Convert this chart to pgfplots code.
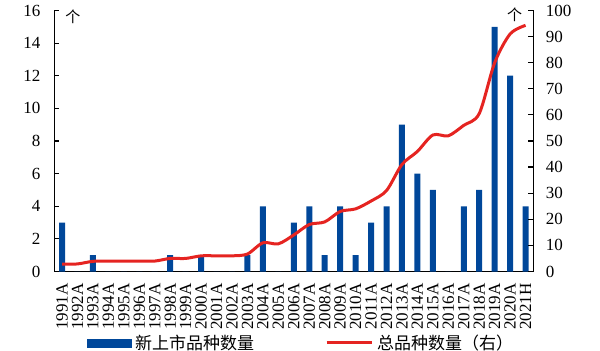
\documentclass[border=0pt]{standalone}
\usepackage{pgfplots}
\pgfplotsset{compat=1.18}
\usepackage{fontspec}
\setmainfont{Liberation Serif}
\newfontfamily\cjk{Noto Sans CJK SC}
\definecolor{barblue}{HTML}{00479A}
\definecolor{linered}{HTML}{E52421}
\begin{document}
\begin{tikzpicture}
\pgfplotsset{
  every axis/.append style={
    scale only axis, width=479pt, height=261pt,
    xmin=-0.5, xmax=30.5,
    font=\fontsize{17}{20}\selectfont,
    /pgf/number format/assume math mode=true,
    tick align=inside, major tick length=5pt,
    axis line style={line width=1.2pt},
    every tick/.style={line width=1.2pt, black},
    clip=false,
  }
}
\begin{axis}[name=ax,
  axis x line*=bottom, axis y line*=left,
  ymin=0, ymax=16, ytick={0,2,...,16},
  xtick={0,...,30},
  xticklabels={1991A,1992A,1993A,1994A,1995A,1996A,1997A,1998A,1999A,2000A,2001A,2002A,2003A,2004A,2005A,2006A,2007A,2008A,2009A,2010A,2011A,2012A,2013A,2014A,2015A,2016A,2017A,2018A,2019A,2020A,2021H},
  xticklabel style={rotate=90, anchor=east},
  xticklabel shift=8.5pt,
  x tick style={draw=none},
  yticklabel shift=10.5pt,
]
\addplot[ybar, bar width=6pt, fill=barblue, draw=none] coordinates {
(0,3) (1,0) (2,1) (3,0) (4,0) (5,0) (6,0) (7,1) (8,0) (9,1) (10,0) (11,0) (12,1) (13,4) (14,0) (15,3) (16,4) (17,1) (18,4) (19,1) (20,3) (21,4) (22,9) (23,6) (24,5) (25,0) (26,4) (27,5) (28,15) (29,12) (30,4)};
\node[font=\cjk\fontsize{15}{15}\selectfont] at (rel axis cs:0.039,0.976) {个};
\end{axis}
\begin{axis}[
  axis x line=none, axis y line*=right,
  ymin=0, ymax=100, ytick={0,10,...,100},
  yticklabel shift=9pt,
  legend style={draw=none, fill=none, at={(0.513,-0.273)}, anchor=center,
    font=\cjk\fontsize{17}{20}\selectfont, column sep=4pt,
    nodes={inner sep=0pt},
    /tikz/every even column/.append style={column sep=71pt}},
  legend columns=2,
]
\addlegendimage{legend image code/.code={\fill[barblue] (0pt,-4pt) rectangle (44pt,4pt);}}
\addlegendentry{新上市品种数量}
\addplot[linered, line width=3pt, smooth, tension=0.5,
  legend image code/.code={\draw[linered,line width=3pt] (0pt,0pt)--(45pt,0pt);}] coordinates {
(0,2.8) (1,2.9) (2,3.9) (3,4) (4,4) (5,4) (6,4) (7,5) (8,5) (9,6) (10,6) (11,6) (12,6.7) (13,11) (14,10.6) (15,14) (16,18) (17,19) (18,23) (19,24) (20,27) (21,31) (22,41) (23,46) (24,52.3) (25,52) (26,56) (27,60.5) (28,80) (29,91) (30,94.3)};
\addlegendentry{总品种数量（右）}
\node[font=\cjk\fontsize{15}{15}\selectfont] at (rel axis cs:0.961,0.982) {个};
\end{axis}
\pgfresetboundingbox
\path[use as bounding box] ([shift={(-54.3pt,-79.3pt)}]ax.south west) rectangle ([shift={(66.7pt,10.5pt)}]ax.north east);
\end{tikzpicture}
\end{document}
